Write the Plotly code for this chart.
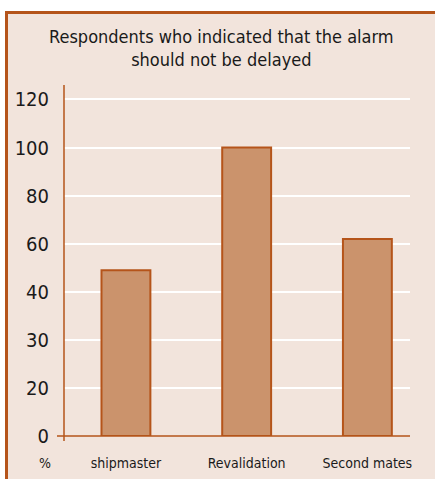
import plotly.graph_objects as go

categories = ["shipmaster", "Revalidation", "Second mates"]
values = [69, 120, 82]
tick_vals = [0, 20, 40, 60, 80, 100, 120, 140]
tick_text = ["0", "20", "30", "40", "60", "80", "100", "120"]
title_text = "Respondents who indicated that the alarm<br>should not be delayed"

FONT = "DejaVu Sans Condensed, sans-serif"
ORANGE = "#b5541a"
BG = "#f2e4dc"
BAR = "#cb936c"

fig = go.Figure()
fig.add_trace(go.Bar(
    x=categories, y=values, width=0.405,
    marker=dict(color=BAR, line=dict(color=ORANGE, width=2)),
))

W, H = 435, 479
L, R, T, B = 64, 25, 86, 43
pw, ph = W - L - R, H - T - B

fig.update_layout(
    width=W, height=H,
    margin=dict(l=L, r=R, t=T, b=B),
    paper_bgcolor="white", plot_bgcolor="rgba(0,0,0,0)",
    showlegend=False,
    font=dict(family=FONT, color="#1a1a1a"),
    xaxis=dict(range=[-0.513, 2.353], showgrid=False, showline=False, zeroline=False,
               automargin=False,
               ticks="outside", ticklen=14, tickcolor="rgba(0,0,0,0)",
               tickfont=dict(size=14, family=FONT, color="#1a1a1a")),
    yaxis=dict(range=[0, 145.6], tickvals=tick_vals, ticktext=tick_text,
               showgrid=True, gridcolor="white", gridwidth=1.5,
               showline=False, zeroline=False, automargin=False,
               ticks="outside", ticklen=10, tickcolor="rgba(0,0,0,0)",
               tickfont=dict(size=20, family=FONT, color="#1a1a1a")),
    shapes=[
        dict(type="rect", xref="paper", yref="paper", layer="below",
             x0=(6.5 - L) / pw, x1=1.3, y0=-0.3, y1=(H - B - 12.5) / ph,
             line=dict(color=ORANGE, width=3), fillcolor=BG),
        dict(type="line", xref="paper", yref="paper", x0=0, x1=0, y0=-5 / ph, y1=1.003,
             line=dict(color=ORANGE, width=1.5)),
        dict(type="line", xref="paper", yref="paper", x0=-7 / pw, x1=1, y0=0, y1=0,
             line=dict(color=ORANGE, width=1.5)),
    ],
    annotations=[
        dict(text=title_text, xref="paper", yref="paper", x=(221 - L) / pw, y=(H - B - 48) / ph,
             showarrow=False, xanchor="center", yanchor="middle",
             font=dict(size=18, family=FONT, color="#1a1a1a")),
        dict(text="%", xref="paper", yref="paper", x=(45 - L) / pw, y=-(463 - (H - B)) / ph,
             showarrow=False, xanchor="center", yanchor="middle",
             font=dict(size=14, family=FONT, color="#1a1a1a")),
    ],
)

fig.write_html("out.html", config={"displayModeBar": False},
               post_script="document.body.style.margin='0';")
